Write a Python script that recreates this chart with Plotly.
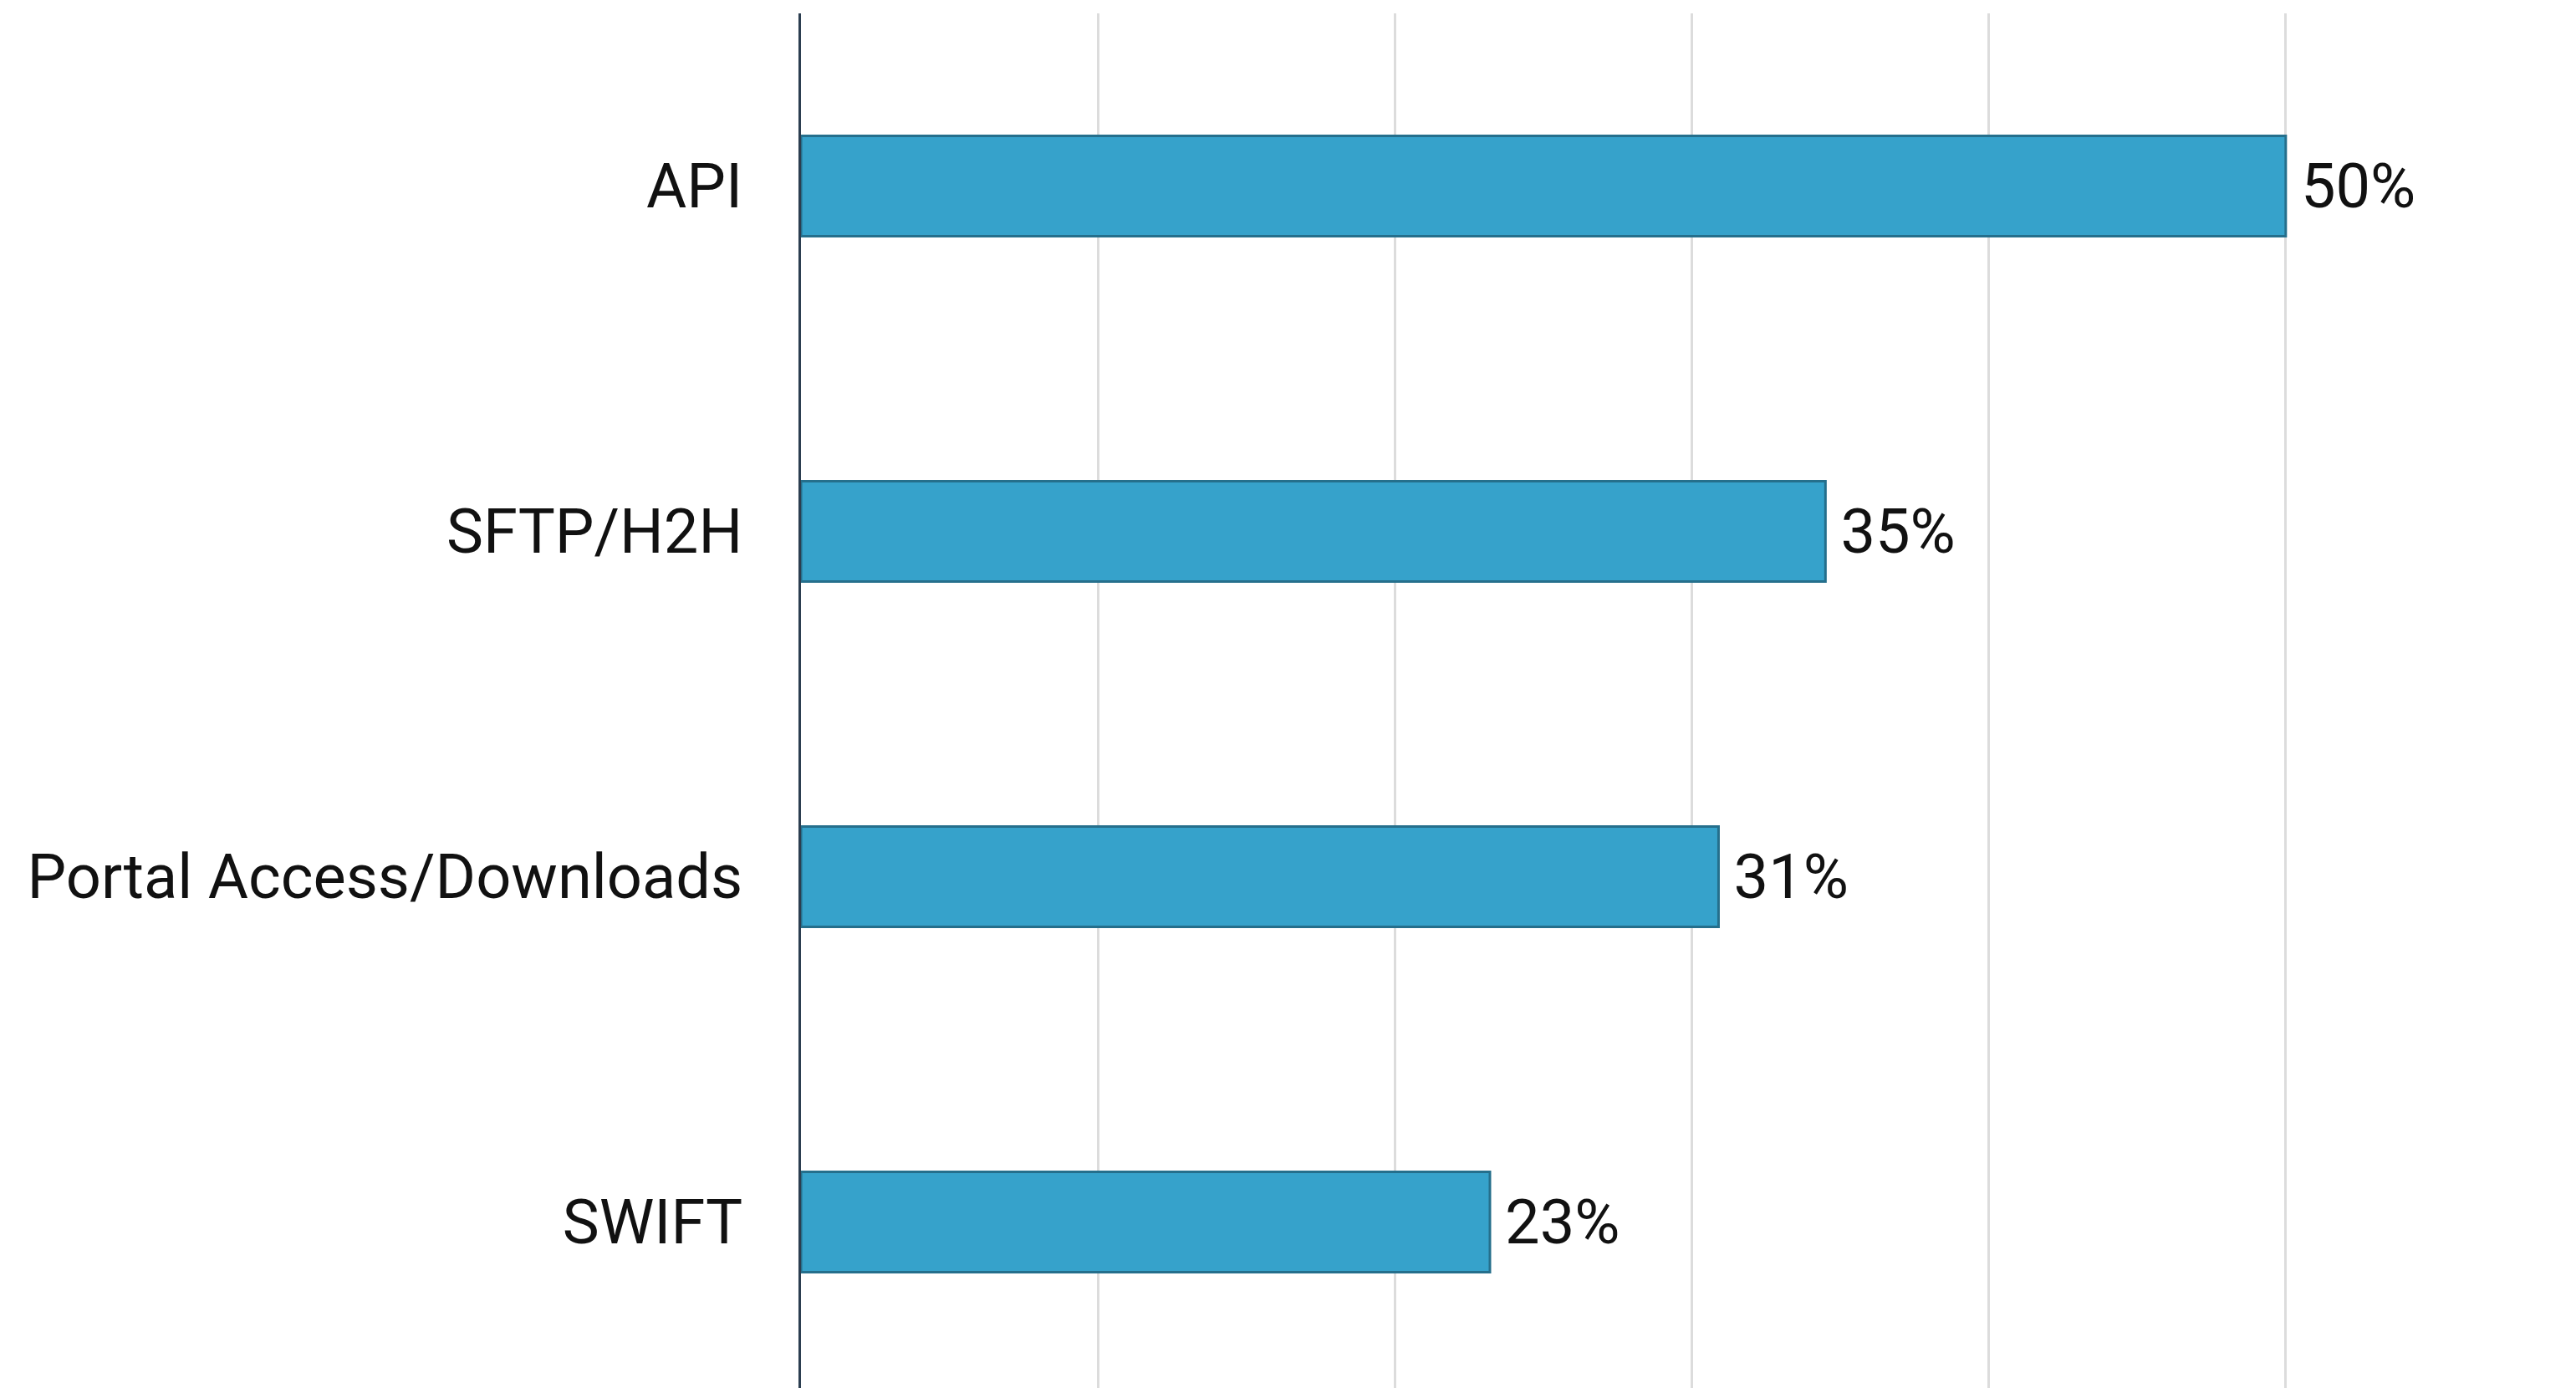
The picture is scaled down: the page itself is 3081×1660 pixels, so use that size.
import plotly.graph_objects as go

categories = ["SWIFT", "Portal Access/Downloads", "SFTP/H2H", "API"]
values = [23.2, 30.9, 34.5, 50.0]
value_labels = ["23%", "31%", "35%", "50%"]

fig = go.Figure(
    go.Bar(
        x=values,
        y=categories,
        orientation="h",
        width=0.29,
        marker=dict(color="#36a2cb", line=dict(color="#256f8c", width=3)),
        text=["\u2009" + t for t in value_labels],
        textposition="outside",
        textfont=dict(family="Roboto", size=74, color="#111111"),
        cliponaxis=False,
    )
)

fig.update_layout(
    width=3081,
    height=1660,
    margin=dict(l=950, r=0, t=8, b=0),
    paper_bgcolor="white",
    plot_bgcolor="white",
    showlegend=False,
    font=dict(family="Roboto", size=74, color="#111111"),
    xaxis=dict(
        range=[0, 60],
        dtick=10,
        showgrid=True,
        gridcolor="#dcdcdc",
        gridwidth=3,
        showticklabels=False,
        zeroline=False,
        showline=False,
        fixedrange=True,
    ),
    yaxis=dict(
        range=[-0.5, 3.5],
        showline=True,
        linecolor="#2c3e50",
        linewidth=3,
        ticks="",
        ticklabelstandoff=52,
        tickfont=dict(family="Roboto", size=74, color="#111111"),
        showgrid=False,
        zeroline=False,
        fixedrange=True,
    ),
)

fig.write_html("out.html")
